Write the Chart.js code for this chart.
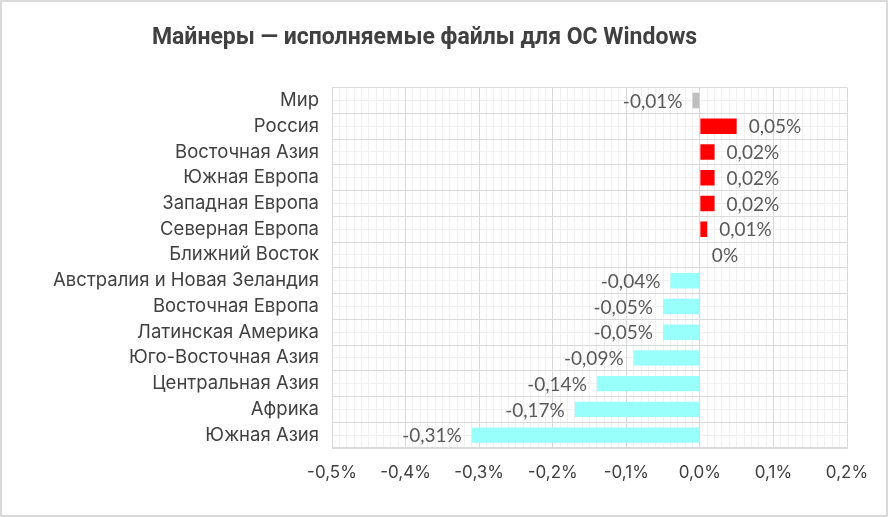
<!DOCTYPE html>
<html>
<head>
<meta charset="utf-8">
<script src="https://cdn.jsdelivr.net/npm/chart.js@4"></script>
<style>
  html, body { margin: 0; padding: 0; background: #fff; }
  #wrap { position: relative; width: 888px; height: 517px; box-sizing: border-box; border: 2px solid #d9d9d9; }
  canvas { display: block; }
</style>
</head>
<body>
<div id="wrap"><canvas id="chart" width="884" height="513"></canvas></div>
<script>
// данные
const categories = [
  "Мир", "Россия", "Восточная Азия", "Южная Европа", "Западная Европа",
  "Северная Европа", "Ближний Восток", "Австралия и Новая Зеландия",
  "Восточная Европа", "Латинская Америка", "Юго-Восточная Азия",
  "Центральная Азия", "Африка", "Южная Азия"
];
const values = [-0.01, 0.05, 0.02, 0.02, 0.02, 0.01, 0, -0.04, -0.05, -0.05, -0.09, -0.14, -0.17, -0.31];
const xTicks = [-0.5, -0.4, -0.3, -0.2, -0.1, 0.0, 0.1, 0.2];
const title = "Майнеры — исполняемые файлы для ОС Windows";

const colorPos = "#ff0000";
const colorNeg = "#99fffa";
const colorWorld = "#bfbfbf";

const barColors = values.map((v, i) => i === 0 ? colorWorld : (v >= 0 ? colorPos : colorNeg));

const fmtTick = v => (Math.abs(v) < 1e-9 ? 0 : v).toFixed(1).replace(".", ",") + "%";
const fmtLabel = v => v === 0 ? "0%" : v.toFixed(2).replace(".", ",") + "%";

// подписи значений у концов столбцов
const valueLabels = {
  id: "valueLabels",
  afterDatasetsDraw(chart) {
    const ctx = chart.ctx;
    const meta = chart.getDatasetMeta(0);
    ctx.save();
    ctx.font = "19px Lato";
    ctx.fillStyle = "#595959";
    ctx.textBaseline = "middle";
    meta.data.forEach((bar, i) => {
      const v = values[i];
      if (v >= 0) {
        ctx.textAlign = "left";
        ctx.fillText(fmtLabel(v), bar.x + 12, bar.y + 1);
      } else {
        ctx.textAlign = "right";
        ctx.fillText(fmtLabel(v), bar.x - 10, bar.y + 1);
      }
    });
    ctx.restore();
  }
};

new Chart(document.getElementById("chart"), {
  type: "bar",
  data: {
    labels: categories,
    datasets: [{
      data: values,
      backgroundColor: barColors,
      barPercentage: 0.6,
      categoryPercentage: 1
    }]
  },
  options: {
    responsive: false,
    animation: false,
    indexAxis: "y",
    layout: { padding: { left: 0, right: 39, top: 0, bottom: 0 } },
    plugins: {
      legend: { display: false },
      tooltip: { enabled: false },
      title: {
        display: true,
        text: title,
        color: "#404040",
        font: { family: "Roboto", size: 23, weight: "bold" },
        padding: { top: 22, bottom: 36 }
      }
    },
    scales: {
      xMinor: {
        type: "linear",
        position: "bottom",
        min: -0.5, max: 0.2,
        z: -2,
        ticks: { display: false, stepSize: 0.01, autoSkip: false, maxTicksLimit: 100 },
        grid: { color: "#f0f0f0", drawTicks: false },
        border: { display: false },
        afterFit: s => { s.height = 0; }
      },
      yMinor: {
        type: "category",
        labels: categories,
        position: "left",
        offset: true,
        z: -2,
        ticks: { display: false, autoSkip: false },
        grid: { color: "#f0f0f0", offset: false, drawTicks: false },
        border: { display: false },
        afterFit: s => { s.width = 0; }
      },
      x: {
        min: -0.5, max: 0.2,
        z: -1,
        afterBuildTicks: s => { s.ticks = xTicks.map(v => ({ value: v })); },
        ticks: {
          callback: v => fmtTick(v),
          color: "#404040",
          font: { family: "Inter", size: 17 },
          padding: 15,
          maxRotation: 0,
          autoSkip: false
        },
        grid: { color: "#d9d9d9", drawTicks: false },
        border: { color: "#d9d9d9" },
        afterFit: s => { s.height = 67; }
      },
      y: {
        z: -1,
        ticks: {
          color: "#404040",
          font: { family: "Inter", size: 18.5 },
          padding: 13,
          autoSkip: false
        },
        grid: { color: "#d9d9d9", offset: true, drawTicks: false },
        border: { color: "#d9d9d9" },
        afterFit: s => { s.width = 330; }
      }
    }
  },
  plugins: [valueLabels]
});
</script>
</body>
</html>
